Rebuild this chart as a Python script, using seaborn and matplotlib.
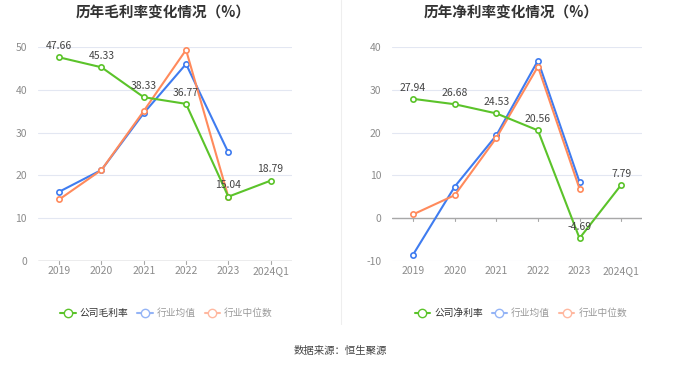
import numpy as np
import pandas as pd
import matplotlib
matplotlib.use('Agg')
import matplotlib.pyplot as plt
import seaborn as sns
from matplotlib.lines import Line2D

# data
years = ['2019', '2020', '2021', '2022', '2023', '2024Q1']
gross_company = [47.66, 45.33, 38.33, 36.77, 15.04, 18.79]
gross_avg = [16.2, 21.3, 34.6, 46.1, 25.4, np.nan]
gross_median = [14.4, 21.3, 35.1, 49.4, 15.0, np.nan]
net_company = [27.94, 26.68, 24.53, 20.56, -4.69, 7.79]
net_avg = [-8.5, 7.4, 19.4, 36.9, 8.5, np.nan]
net_median = [0.9, 5.4, 18.8, 35.5, 6.9, np.nan]

GREEN = '#5bc32a'
BLUE = '#3f7cf0'
ORANGE = '#ff8a5c'
GREEN_L = '#5bc32a'
BLUE_L = '#94b4f6'
ORANGE_L = '#ffb8a0'

sns.set_theme(style='white')
plt.rcParams['font.family'] = ['Noto Sans CJK SC', 'DejaVu Sans']
plt.rcParams['axes.unicode_minus'] = False


def make_df(company, avg, median, company_name):
    frames = []
    for name, vals in [(company_name, company), ('行业均值', avg), ('行业中位数', median)]:
        frames.append(pd.DataFrame({'year': years, 'value': vals, 'series': name}))
    return pd.concat(frames, ignore_index=True).dropna()


def draw_panel(ax, df, company_name, ylim, yticks):
    palette = {company_name: GREEN, '行业均值': BLUE, '行业中位数': ORANGE}
    # industry lines first, company line on top
    for name in ['行业均值', '行业中位数', company_name]:
        sub = df[df.series == name]
        sns.lineplot(data=sub, x='year', y='value', color=palette[name], ax=ax,
                     marker='o', markersize=3.8, markerfacecolor='white',
                     markeredgecolor=palette[name], markeredgewidth=1.2,
                     linewidth=1.5, sort=False, legend=False)
    comp = df[df.series == company_name]
    for x, y in zip(comp.year, comp.value):
        ax.annotate(f'{y:.2f}', (x, y), xytext=(0, 4.5), textcoords='offset points',
                    ha='center', va='bottom', fontsize=7.5, color='#444444')
    ax.set_xlim(-0.5, len(years) - 0.5)
    ax.set_ylim(*ylim)
    ax.set_yticks(yticks)
    ax.grid(axis='y', color='#e3e7f2', linewidth=0.8)
    ax.set_axisbelow(True)
    for s in ['top', 'right', 'left', 'bottom']:
        ax.spines[s].set_visible(False)
    ax.axhline(0, color='#a8a8a8', linewidth=1.0, zorder=1)
    ax.tick_params(axis='both', labelsize=7.5, labelcolor='#8c8c8c', length=0, pad=4)
    ax.tick_params(axis='y', pad=8)
    # small tick marks on the zero line
    for i in range(len(years)):
        ax.plot([i, i], [0, -(ylim[1] - ylim[0]) * 0.012], color='#a8a8a8', lw=0.8,
                clip_on=False, zorder=1)
    ax.set_xlabel('')
    ax.set_ylabel('')


fig = plt.figure(figsize=(6.8, 3.67), dpi=100)
ax1 = fig.add_axes([0.056, 0.289, 0.373, 0.582])
ax2 = fig.add_axes([0.577, 0.289, 0.367, 0.582])

draw_panel(ax1, make_df(gross_company, gross_avg, gross_median, '公司毛利率'),
           '公司毛利率', (0, 50), [0, 10, 20, 30, 40, 50])
draw_panel(ax2, make_df(net_company, net_avg, net_median, '公司净利率'),
           '公司净利率', (-10, 40), [-10, 0, 10, 20, 30, 40])

fig.text(0.24, 0.965, '历年毛利率变化情况（%）', ha='center', va='center',
         fontsize=10.5, fontweight='bold', color='#333333')
fig.text(0.752, 0.965, '历年净利率变化情况（%）', ha='center', va='center',
         fontsize=10.5, fontweight='bold', color='#333333')

# separator between the two panels
fig.add_artist(Line2D([0.5015, 0.5015], [0.117, 1.0], color='#eeeeee', lw=0.8))


def add_legend(company_name, x):
    handles = [
        Line2D([], [], color=GREEN_L, marker='o', markersize=6, markerfacecolor='white', lw=1.5),
        Line2D([], [], color=BLUE_L, marker='o', markersize=6, markerfacecolor='white', lw=1.5),
        Line2D([], [], color=ORANGE_L, marker='o', markersize=6, markerfacecolor='white', lw=1.5),
    ]
    leg = fig.legend(handles, [company_name, '行业均值', '行业中位数'], loc='center',
                     bbox_to_anchor=(x, 0.147), ncol=3, frameon=False, fontsize=7,
                     handlelength=1.6, handletextpad=0.4, columnspacing=0.9)
    for t, c in zip(leg.get_texts(), ['#333333', '#999999', '#999999']):
        t.set_color(c)


add_legend('公司毛利率', 0.245)
add_legend('公司净利率', 0.766)

fig.text(0.5, 0.043, '数据来源：恒生聚源', ha='center', va='center', fontsize=7.5, color='#444444')

fig.savefig('out.png', dpi=100)
